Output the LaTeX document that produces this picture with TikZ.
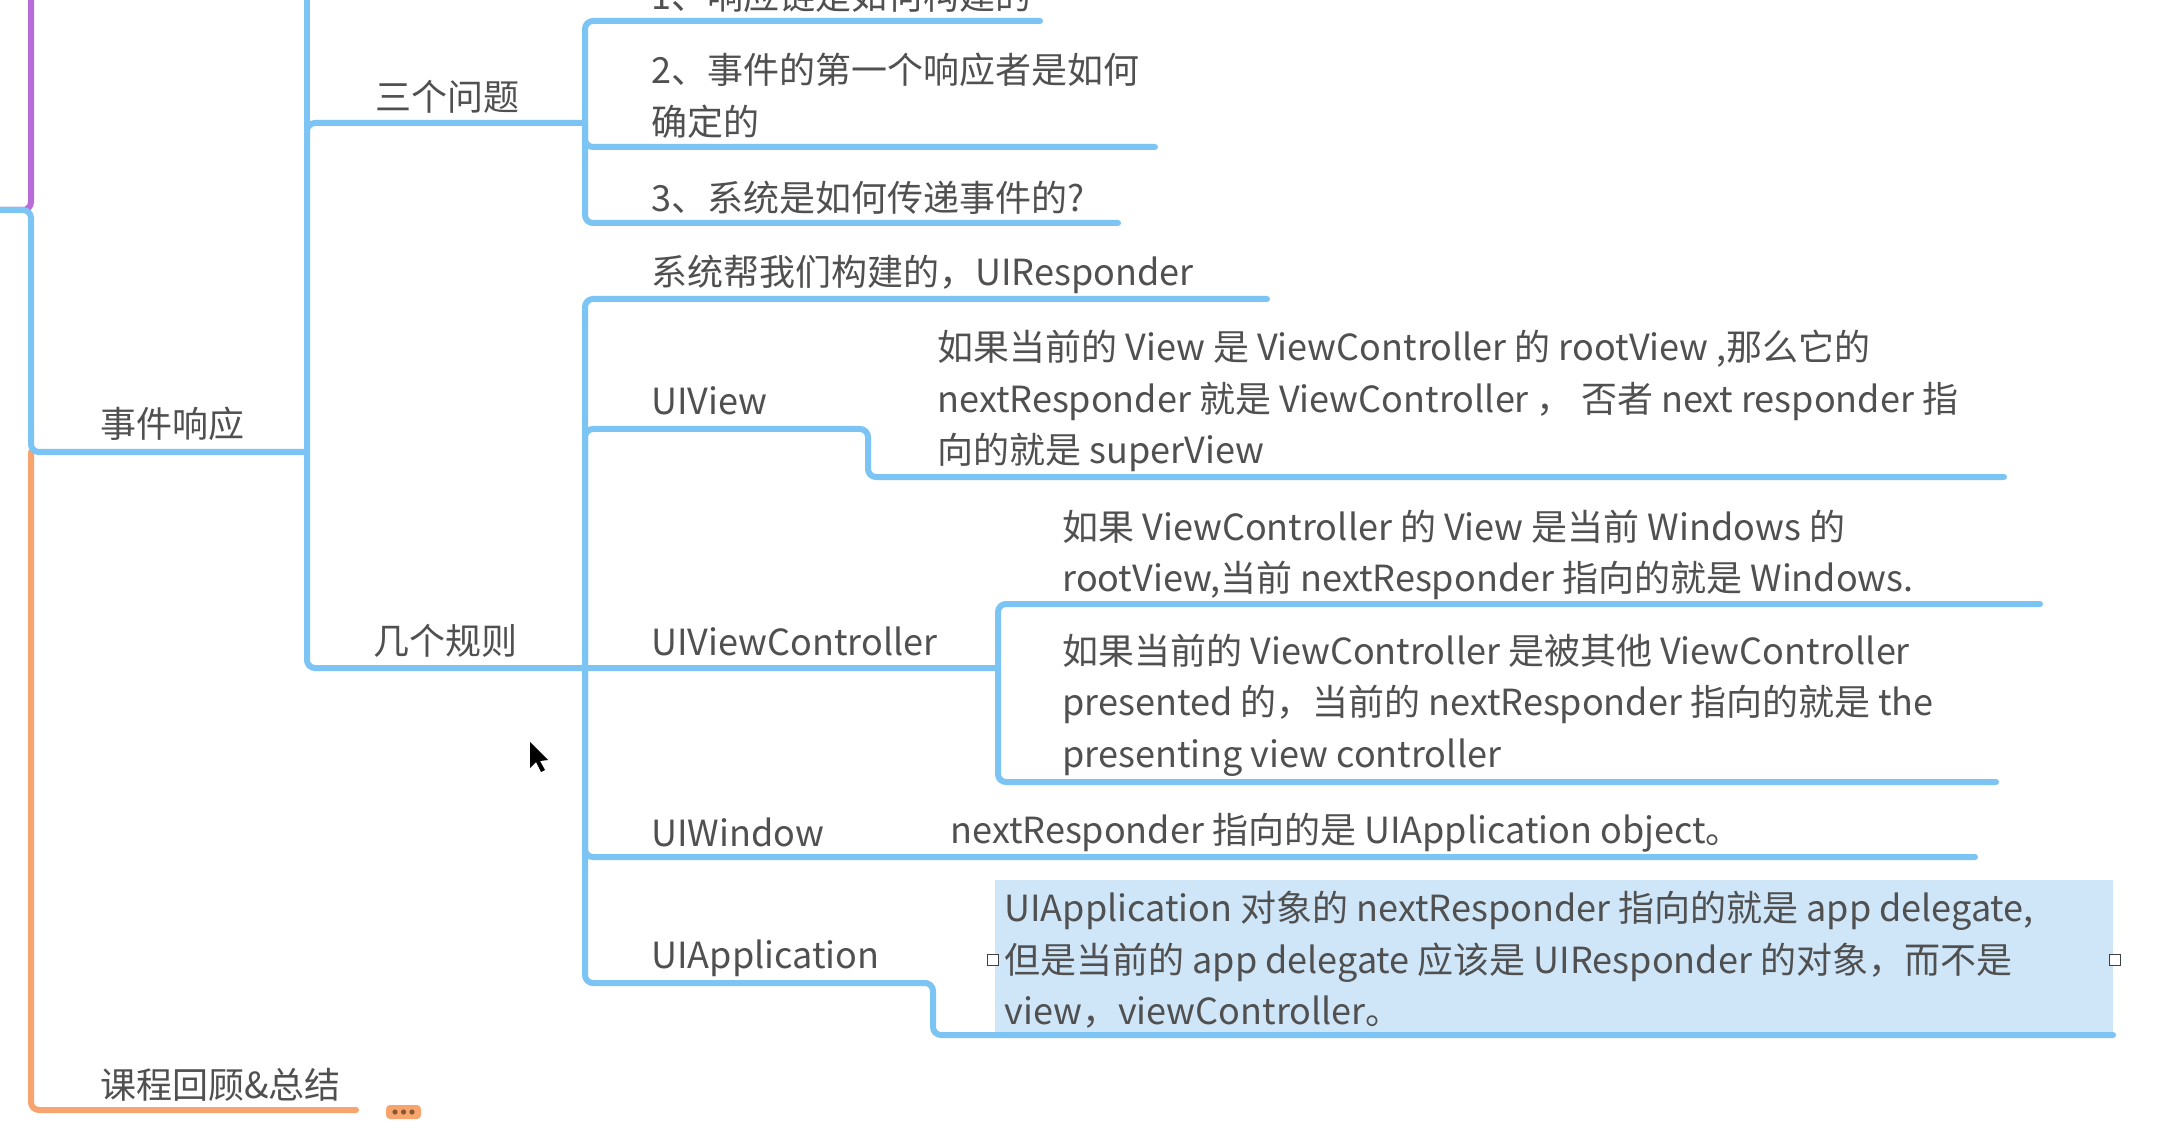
\documentclass[tikz,border=0pt]{standalone}
\usepackage{fontspec}
\setmainfont{Noto Sans CJK SC}
\definecolor{lineblue}{HTML}{7CC4F4}
\definecolor{lineorange}{HTML}{F7A46E}
\definecolor{linepurple}{HTML}{B76CD9}
\definecolor{txt}{HTML}{505050}
\definecolor{hl}{HTML}{CFE6F9}
\tikzset{
  conn/.style={draw=lineblue, line width=3pt, rounded corners=4pt, line cap=round},
  connor/.style={conn, draw=lineorange},
  connpu/.style={conn, draw=linepurple},
  topic/.style={anchor=west, inner sep=0pt, text=txt, font=\fontsize{18}{25.8}\selectfont, align=left},
  handle/.style={draw=black!75, fill=white, line width=0.7pt, minimum size=5.5pt, inner sep=0pt},
}
\begin{document}
\begin{tikzpicture}[x=0.5pt,y=-0.5pt]
\useasboundingbox (0,0) rectangle (2168,1128);
\clip (0,0) rectangle (2168,1128);
\fill[white] (0,0) rectangle (2168,1128);

% highlight of selected topic
\fill[hl] (995,880) rectangle (2113,1035);

% coordinates (junctions / underline ends)
\coordinate (root) at (0,210);
\coordinate (top1) at (31,-10);
\coordinate (top2) at (307,-10);
\coordinate (evt-e) at (307,452);
\coordinate (spine) at (31,452);
\coordinate (rev-e) at (356,1110);
\coordinate (q-e) at (585,123);
\coordinate (r-e) at (585,668);
\coordinate (i1-e) at (1040,21);
\coordinate (i2-e) at (1155,147);
\coordinate (i3-e) at (1118,223);
\coordinate (sys-e) at (1267,299);
\coordinate (uiv-k) at (868,429);
\coordinate (uiv-e) at (2004,477);
\coordinate (vc-e) at (998,668);
\coordinate (vc1-e) at (2040,604);
\coordinate (vc2-e) at (1996,782);
\coordinate (win-e) at (1975,857);
\coordinate (app-k) at (933,983);
\coordinate (app-e) at (2113,1035);

% spine
\draw[connpu] (top1) |- (root);
\draw[connor] (spine) |- (rev-e);
\draw[conn] (root) -| (spine) -- (evt-e);

% level 2
\draw[conn] (evt-e) -- (top2);
\draw[conn] (evt-e) |- (q-e);
\draw[conn] (evt-e) |- (r-e);

% level 3: three questions
\draw[conn] (q-e) |- (i1-e);
\draw[conn] (q-e) |- (i2-e);
\draw[conn] (q-e) |- (i3-e);

% level 3: rules
\draw[conn] (r-e) |- (sys-e);
\draw[conn] (r-e) |- (uiv-k) |- (uiv-e);
\draw[conn] (r-e) -- (vc-e);
\draw[conn] (vc-e) |- (vc1-e);
\draw[conn] (vc-e) |- (vc2-e);
\draw[conn] (r-e) |- (win-e);
\draw[conn] (r-e) |- (app-k) |- (app-e);

% texts
\node[topic] (evt) at (100,424) {事件响应};
\node[topic] (rev) at (100,1085) {课程回顾\&总结};
\node[topic] (q3) at (375,97) {三个问题};
\node[topic] (rules) at (373,641) {几个规则};

\node[topic] (t1) at (651,-4) {1、响应链是如何构建的};
\node[topic] (t2) at (651,96) {2、事件的第一个响应者是如何\\确定的};
\node[topic] (t3) at (651,198) {3、系统是如何传递事件的?};

\node[topic] (sys) at (651,274) {系统帮我们构建的，UIResponder};
\node[topic] (uiv) at (651,401) {UIView};
\node[topic] (uivb) at (937,401) {如果当前的 View 是 ViewController 的 rootView ,那么它的\\nextResponder 就是 ViewController ， 否者 next responder 指\\向的就是 superView};
\node[topic] (vc) at (651,641) {UIViewController};
\node[topic] (vc1) at (1062,555) {如果 ViewController 的 View 是当前 Windows 的\\rootView,当前 nextResponder 指向的就是 Windows.};
\node[topic] (vc2) at (1062,705) {如果当前的 ViewController 是被其他 ViewController\\presented 的，当前的 nextResponder 指向的就是 the\\presenting view controller};
\node[topic] (win) at (651,832) {UIWindow};
\node[topic] (winb) at (950,833) {nextResponder 指向的是 UIApplication object。};
\node[topic] (app) at (651,958) {UIApplication};
\node[topic] (appb) at (1004,960) {UIApplication 对象的 nextResponder 指向的就是 app delegate,\\但是当前的 app delegate 应该是 UIResponder 的对象，而不是\\view，viewController。};

% selection handles
\node[handle] (h1) at (993,960) {};
\node[handle] (h2) at (2115,960) {};

% collapsed marker
\fill[lineorange, rounded corners=2pt] (386,1105) rectangle (421,1119);
\foreach \dx in {395,403.5,412} \fill[brown!70!black] (\dx,1112) circle (2.6);

% mouse pointer
\fill[black] (530,742) -- (530,768) -- (536,762) -- (541,772) -- (545,770) -- (540,761) -- (548,760) -- cycle;
\end{tikzpicture}
\end{document}
